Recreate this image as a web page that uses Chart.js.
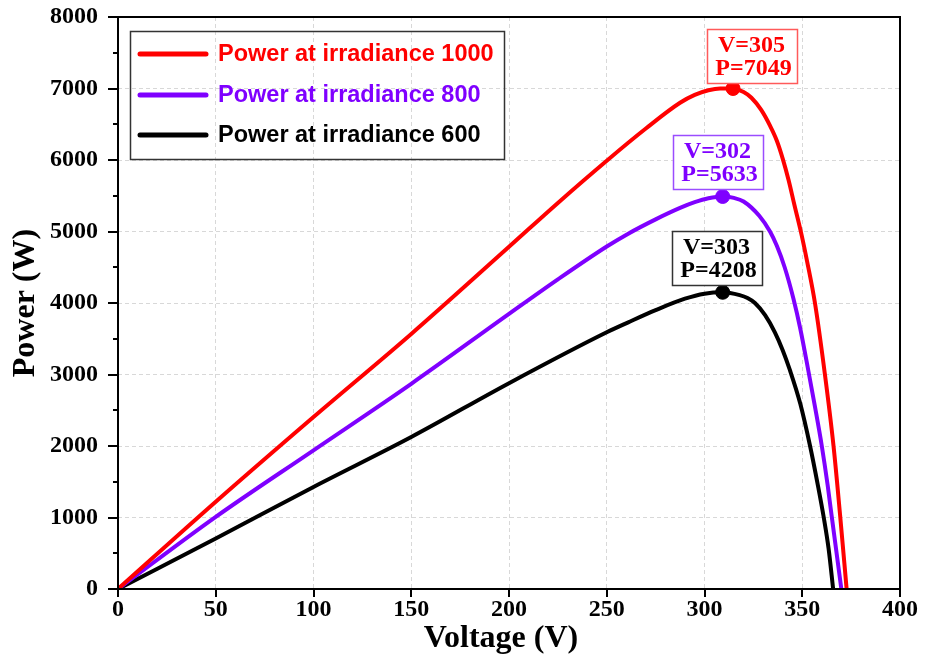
<!DOCTYPE html>
<html>
<head>
<meta charset="utf-8">
<script src="https://cdn.jsdelivr.net/npm/chart.js@4.4.0/dist/chart.umd.min.js"></script>
<style>
  html, body { margin: 0; padding: 0; background: #fff; }
</style>
</head>
<body>
<canvas id="pv" width="925" height="660"></canvas>
<script>
// values
const seriesNames = ['Power at irradiance 1000', 'Power at irradiance 800', 'Power at irradiance 600'];
const seriesColors = ['#ff0000', '#7f00ff', '#000000'];

const v1000 = [0, 50, 100, 150, 200, 225, 250, 270, 287.5, 295, 302, 308, 314.6, 320, 324, 329, 333.5, 337, 340, 343, 346, 349.6, 352.5, 356.5, 361.6, 366, 369.3, 372.7];
const p1000 = [0, 1220, 2405, 3567, 4786, 5400, 5990, 6440, 6800, 6910, 6975, 7000, 7000, 6950, 6870, 6700, 6480, 6270, 6020, 5720, 5370, 4960, 4580, 4000, 3000, 2000, 1050, 0];

const v800 = [0, 50, 100, 150, 200, 225, 250, 261, 275, 287.5, 295, 302, 309.3, 315, 320, 328, 333.5, 337, 341, 345.5, 349, 353, 356.5, 360, 363, 365, 370];
const p800 = [0, 1009, 1940, 2870, 3847, 4330, 4790, 4970, 5170, 5330, 5410, 5465, 5490, 5470, 5420, 5220, 5000, 4800, 4500, 4060, 3640, 3070, 2550, 2000, 1450, 1030, 0];

const v600 = [0, 50, 100, 150, 200, 250, 261, 275, 290, 300, 309.3, 318, 322, 325.8, 331, 336, 340, 343.7, 349, 354, 358, 361, 363.5, 365.8];
const p600 = [0, 707, 1428, 2126, 2879, 3591, 3730, 3900, 4060, 4130, 4150, 4110, 4070, 4000, 3830, 3590, 3340, 3060, 2590, 2000, 1450, 1000, 560, 0];

// maximum power points (marker position + printed label)
const peakV = [314.6, 309.3, 309.3];
const peakP = [7000, 5490, 4150];
const peakTextV = ['V=305', 'V=302', 'V=303'];
const peakTextP = ['P=7049', 'P=5633', 'P=4208'];

const xTicks = [0, 50, 100, 150, 200, 250, 300, 350, 400];
const yTicks = [0, 1000, 2000, 3000, 4000, 5000, 6000, 7000, 8000];

const SERIF = '"Liberation Serif", "Times New Roman", serif';
const SANS = '"Liberation Sans", Arial, sans-serif';

function pts(xs, ys) { return xs.map((x, i) => ({x: x, y: ys[i]})); }

const allV = [v1000, v800, v600];
const allP = [p1000, p800, p600];

const datasets = allV.map((xs, i) => ({
    label: seriesNames[i],
    data: pts(xs, allP[i]),
    borderColor: seriesColors[i],
    borderWidth: 4,
    pointRadius: 0,
    cubicInterpolationMode: 'monotone',
    fill: false
}));
datasets.push({
    type: 'scatter',
    label: 'peaks',
    data: pts(peakV, peakP),
    backgroundColor: seriesColors,
    borderColor: seriesColors,
    pointRadius: 7,
    pointHoverRadius: 7
});

// box offsets from the marker (px)
const boxDx = [-26, -50, -51];
const boxDy = [-60, -61, -61];
const boxBorder = ['#ff5a5a', '#9a4dff', '#333333'];

const extras = {
    id: 'extras',
    afterDraw(chart) {
        const ctx = chart.ctx;
        const a = chart.chartArea;
        const xs = chart.scales.x, ys = chart.scales.y;
        ctx.save();

        // frame
        ctx.strokeStyle = '#000';
        ctx.lineWidth = 2;
        ctx.strokeRect(a.left, a.top, a.right - a.left, a.bottom - a.top);

        // tick marks
        for (let v = 0; v <= 8000; v += 500) {
            const y = Math.round(ys.getPixelForValue(v));
            const len = v % 1000 === 0 ? 10 : 5;
            ctx.beginPath(); ctx.moveTo(a.left - len, y); ctx.lineTo(a.left, y); ctx.stroke();
        }
        xTicks.forEach(v => {
            const x = Math.round(xs.getPixelForValue(v));
            ctx.beginPath(); ctx.moveTo(x, a.bottom); ctx.lineTo(x, a.bottom + 8); ctx.stroke();
        });

        // axis titles
        ctx.fillStyle = '#000';
        ctx.font = 'bold 32px ' + SERIF;
        ctx.textAlign = 'center';
        ctx.textBaseline = 'middle';
        ctx.fillText('Voltage (V)', (a.left + a.right) / 2 - 8, 639);
        ctx.save();
        ctx.translate(26, 303);
        ctx.rotate(-Math.PI / 2);
        ctx.fillText('Power (W)', 0, 0);
        ctx.restore();

        // legend
        ctx.strokeStyle = '#333';
        ctx.lineWidth = 1.5;
        ctx.strokeRect(130.5, 31.5, 374, 128);
        const ly = [54, 95, 135];
        ctx.font = 'bold 23.5px ' + SANS;
        ctx.textAlign = 'left';
        seriesNames.forEach((n, i) => {
            ctx.strokeStyle = seriesColors[i];
            ctx.lineWidth = 5;
            ctx.lineCap = 'round';
            ctx.beginPath(); ctx.moveTo(140, ly[i]); ctx.lineTo(206, ly[i]); ctx.stroke();
            ctx.fillStyle = seriesColors[i];
            ctx.fillText(n, 218, ly[i] + 1);
        });
        ctx.lineCap = 'butt';

        // peak labels
        ctx.font = 'bold 24px ' + SERIF;
        peakV.forEach((v, i) => {
            const px = xs.getPixelForValue(v), py = ys.getPixelForValue(peakP[i]);
            const bx = Math.round(px + boxDx[i]) + 0.5, by = Math.round(py + boxDy[i]) + 0.5;
            ctx.fillStyle = '#fff';
            ctx.fillRect(bx, by, 90, 54);
            ctx.strokeStyle = boxBorder[i];
            ctx.lineWidth = 1.5;
            ctx.strokeRect(bx, by, 90, 54);
            ctx.fillStyle = seriesColors[i];
            ctx.textAlign = 'center';
            ctx.fillText(peakTextV[i], bx + 44, by + 16);
            ctx.fillText(peakTextP[i], bx + 46, by + 39);
        });
        ctx.restore();
    }
};

new Chart(document.getElementById('pv'), {
    type: 'line',
    data: { datasets: datasets },
    options: {
        responsive: false,
        animation: false,
        layout: { padding: { top: 17, right: 25, left: 0, bottom: 0 } },
        plugins: { legend: { display: false }, tooltip: { enabled: false } },
        scales: {
            x: {
                type: 'linear',
                min: 0, max: 400,
                afterFit: s => { s.height = 71; s.paddingLeft = 0; s.paddingRight = 0; },
                afterBuildTicks: s => { s.ticks = xTicks.map(v => ({value: v})); },
                ticks: { color: '#000', padding: 6, callback: v => String(v), font: { family: SERIF, weight: 'bold', size: 24 } },
                grid: {
                    drawTicks: false,
                    lineWidth: 1,
                    color: c => (c.tick && c.tick.value > 0 && c.tick.value < 400) ? '#d8d8d8' : 'rgba(0,0,0,0)'
                },
                border: { display: false, dash: [4, 3] }
            },
            y: {
                type: 'linear',
                min: 0, max: 8000,
                afterFit: s => { s.width = 118; s.paddingTop = 0; s.paddingBottom = 0; },
                afterBuildTicks: s => { s.ticks = yTicks.map(v => ({value: v})); },
                ticks: { color: '#000', padding: 20, callback: v => String(v), font: { family: SERIF, weight: 'bold', size: 24 } },
                grid: {
                    drawTicks: false,
                    lineWidth: 1,
                    color: c => (c.tick && c.tick.value > 0 && c.tick.value < 8000) ? '#d8d8d8' : 'rgba(0,0,0,0)'
                },
                border: { display: false, dash: [4, 3] }
            }
        }
    },
    plugins: [extras]
});
</script>
</body>
</html>
